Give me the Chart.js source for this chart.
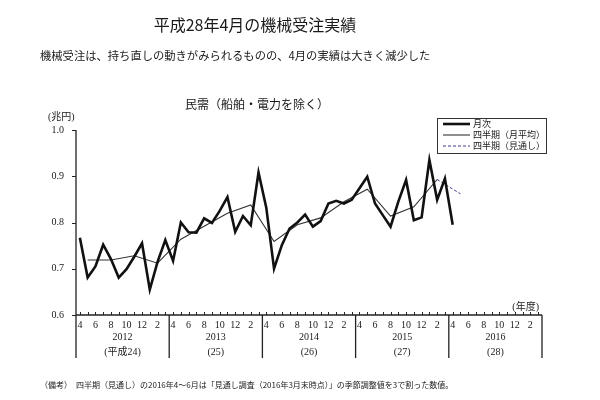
<!DOCTYPE html>
<html>
<head>
<meta charset="utf-8">
<script src="https://cdn.jsdelivr.net/npm/chart.js@4"></script>
<style>
  body { margin: 0; background: #fff; }
  #wrap { position: relative; width: 600px; height: 400px; overflow: hidden; }
  .txt { position: absolute; white-space: nowrap; color: #1a1a1a; font-family: "Noto Sans CJK JP", sans-serif; }
  canvas { position: absolute; left: 0; top: 0; }
</style>
</head>
<body>
<div id="wrap">
  <canvas id="chart" width="600" height="400"></canvas>
  <div class="txt" id="title" style="left:255px; top:12px; font-size:16px; transform:translateX(-50%);">平成28年4月の機械受注実績</div>
  <div class="txt" id="subtitle" style="left:40px; top:47px; font-size:11.3px;">機械受注は、持ち直しの動きがみられるものの、4月の実績は大きく減少した</div>
  <div class="txt" id="charttitle" style="left:257px; top:95px; font-size:12px; transform:translateX(-50%);">民需（船舶・電力を除く）</div>
  <div class="txt" id="note" style="left:40px; top:379px; font-size:8px;">（備考）　四半期（見通し）の2016年4～6月は「見通し調査（2016年3月末時点）」の季節調整値を3で割った数値。</div>
</div>
<script>
// fiscal years shown on the axis (Apr - Mar)
const fiscalYears = ["2012", "2013", "2014", "2015", "2016"];
const eraLabels = ["(平成24)", "(25)", "(26)", "(27)", "(28)"];
const monthNames = [4, 5, 6, 7, 8, 9, 10, 11, 12, 1, 2, 3];

// 月次 (兆円), Apr 2012 - Apr 2016
const monthly = [
  0.767, 0.681, 0.705, 0.752, 0.721, 0.681, 0.699, 0.726, 0.755, 0.655, 0.715, 0.762,
  0.717, 0.800, 0.779, 0.778, 0.809, 0.799, 0.825, 0.855, 0.780, 0.814, 0.794, 0.908,
  0.832, 0.700, 0.751, 0.787, 0.800, 0.817, 0.791, 0.803, 0.841, 0.847, 0.841, 0.849,
  0.874, 0.899, 0.841, 0.816, 0.791, 0.845, 0.892, 0.805, 0.811, 0.935, 0.849, 0.895,
  0.795
];

// 四半期 (月平均), FY2012 Q1 - FY2015 Q4
const quarterly = [
  0.719, 0.719, 0.728, 0.712,
  0.764, 0.792, 0.820, 0.838,
  0.759, 0.795, 0.810, 0.845,
  0.872, 0.814, 0.834, 0.893
];

// 四半期 (見通し): last actual quarter -> 2016 Q1 forecast
const forecast = [0.893, 0.862];

const legendItems = ["月次", "四半期（月平均）", "四半期（見通し）"];

// build category labels and series
const labels = [];
fiscalYears.forEach(() => monthNames.forEach(m => labels.push(m)));

const monthlyData = labels.map((_, i) => i < monthly.length ? monthly[i] : null);
const quarterData = labels.map(() => null);
quarterly.forEach((v, q) => { quarterData[q * 3 + 1] = v; });
const forecastData = labels.map(() => null);
forecastData[(quarterly.length - 1) * 3 + 1] = forecast[0];
forecastData[quarterly.length * 3 + 1] = forecast[1];

const serif = "'Liberation Serif', 'Noto Sans CJK JP', serif";
const ink = '#1a1a1a';

const decorations = {
  id: 'decorations',
  afterDraw(chart) {
    const { ctx, chartArea, scales } = chart;
    const x = scales.x, y = scales.y;
    const half = (x.getPixelForValue(1) - x.getPixelForValue(0)) / 2;
    const left = chartArea.left, right = chartArea.right, bottom = chartArea.bottom;
    const low = bottom + 43;
    ctx.save();
    ctx.strokeStyle = '#222';
    ctx.lineWidth = 1.3;
    // axes
    ctx.beginPath();
    ctx.moveTo(left, chartArea.top);
    ctx.lineTo(left, low);
    ctx.moveTo(left, bottom);
    ctx.lineTo(right, bottom);
    ctx.stroke();
    // y ticks
    ctx.lineWidth = 1;
    ctx.beginPath();
    y.ticks.forEach(t => {
      const py = Math.round(y.getPixelForValue(t.value)) + 0.5;
      ctx.moveTo(left - 4, py);
      ctx.lineTo(left, py);
    });
    // month ticks
    labels.forEach((_, i) => {
      const px = Math.round(x.getPixelForValue(i)) + 0.5;
      ctx.moveTo(px, bottom);
      ctx.lineTo(px, bottom - 3);
    });
    ctx.stroke();
    // year separators
    ctx.lineWidth = 1.3;
    ctx.beginPath();
    fiscalYears.forEach((_, k) => {
      const px = x.getPixelForValue((k + 1) * 12 - 1) + half;
      ctx.moveTo(px, bottom);
      ctx.lineTo(px, low);
    });
    ctx.stroke();
    // year and era labels
    ctx.fillStyle = ink;
    ctx.font = '10px ' + serif;
    ctx.textAlign = 'center';
    ctx.textBaseline = 'middle';
    fiscalYears.forEach((yr, k) => {
      const cx = (x.getPixelForValue(k * 12) + x.getPixelForValue(k * 12 + 11)) / 2;
      ctx.fillText(yr, cx, bottom + 22);
      ctx.fillText(eraLabels[k], cx, bottom + 37);
    });
    // unit labels
    ctx.textAlign = 'right';
    ctx.fillText('(年度)', right - 3, bottom - 8);
    ctx.textAlign = 'left';
    ctx.fillText('(兆円)', left - 28, chartArea.top - 13);

    // legend box
    const bx = 437, by = 118, bw = 109, bh = 35;
    ctx.lineWidth = 1;
    ctx.strokeStyle = '#333';
    ctx.strokeRect(bx + 0.5, by + 0.5, bw, bh);
    chart.data.datasets.forEach((ds, k) => {
      const ly = by + 6 + k * 11;
      ctx.beginPath();
      ctx.strokeStyle = ds.borderColor;
      ctx.lineWidth = ds.borderWidth;
      ctx.setLineDash(ds.borderDash || []);
      ctx.moveTo(bx + 6, ly);
      ctx.lineTo(bx + 33, ly);
      ctx.stroke();
      ctx.setLineDash([]);
      ctx.fillStyle = ink;
      ctx.font = '9px "Noto Sans CJK JP", sans-serif';
      ctx.textAlign = 'left';
      ctx.fillText(legendItems[k], bx + 36, ly);
    });
    ctx.restore();
  }
};

const chart = new Chart(document.getElementById('chart').getContext('2d'), {
  type: 'line',
  data: {
    labels: labels,
    datasets: [
      {
        label: legendItems[0],
        data: monthlyData,
        borderColor: '#111',
        borderWidth: 2.6,
        pointRadius: 0,
        tension: 0
      },
      {
        label: legendItems[1],
        data: quarterData,
        borderColor: '#333',
        borderWidth: 1.1,
        pointRadius: 0,
        spanGaps: true,
        tension: 0
      },
      {
        label: legendItems[2],
        data: forecastData,
        borderColor: '#3b3b8f',
        borderWidth: 1,
        borderDash: [3, 2],
        pointRadius: 0,
        spanGaps: true,
        tension: 0
      }
    ]
  },
  options: {
    responsive: false,
    animation: false,
    devicePixelRatio: 1,
    layout: { padding: { top: 130, right: 58, bottom: 0, left: 0 } },
    plugins: {
      legend: { display: false },
      tooltip: { enabled: false }
    },
    scales: {
      x: {
        type: 'category',
        offset: true,
        grid: { display: false, drawTicks: false },
        border: { display: false },
        afterFit: (s) => { s.height = 85; },
        ticks: {
          autoSkip: false,
          maxRotation: 0,
          padding: 4,
          color: ink,
          font: { family: serif, size: 10 },
          callback: function (v) {
            const m = this.getLabelForValue(v);
            return m % 2 === 0 ? String(m) : '';
          }
        }
      },
      y: {
        min: 0.6,
        max: 1.0,
        grid: { display: false, drawTicks: false },
        border: { display: false },
        afterFit: (s) => { s.width = 76; },
        ticks: {
          stepSize: 0.1,
          padding: 12,
          color: ink,
          font: { family: serif, size: 10 },
          callback: (v) => v.toFixed(1)
        }
      }
    }
  },
  plugins: [decorations]
});
</script>
</body>
</html>
